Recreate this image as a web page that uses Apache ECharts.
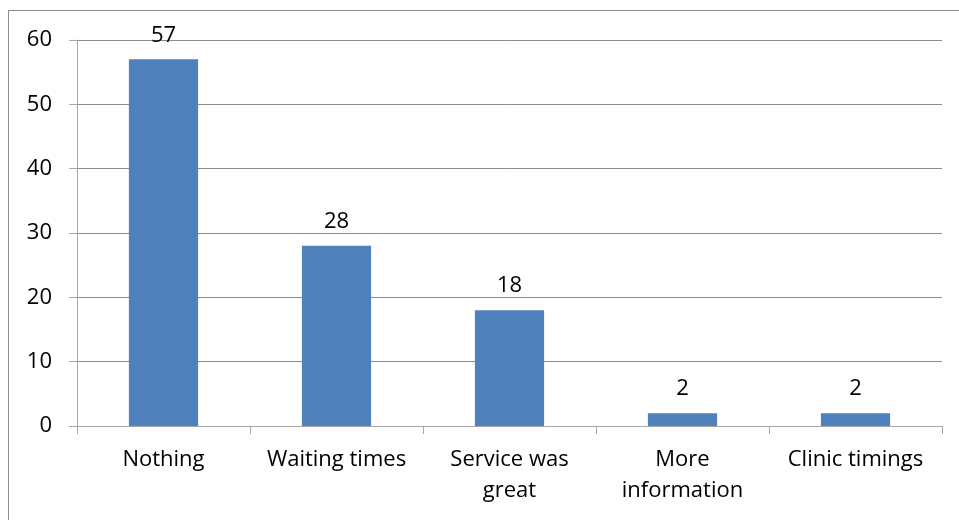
<!DOCTYPE html>
<html>
<head>
<meta charset="utf-8">
<script src="https://cdn.jsdelivr.net/npm/echarts@6/dist/echarts.min.js"></script>
<style>
  html, body { margin: 0; padding: 0; overflow: hidden; background: #fff; }
  #frame { position: absolute; left: 8px; top: 10px; width: 1000px; height: 600px; border: 1px solid #8c8c8c; }
  #chart { position: absolute; left: 0; top: 0; width: 959px; height: 520px; }
</style>
</head>
<body>
<div id="frame"></div>
<div id="chart"></div>
<script>
// answers and counts
const categories = ['Nothing', 'Waiting times', 'Service was\ngreat', 'More\ninformation', 'Clinic timings'];
const counts = [57, 28, 18, 2, 2];

const fontFamily = 'Open Sans';
var myChart = echarts.init(document.getElementById('chart'));
var option = {
  animation: false,
  grid: { left: 77, right: 17, top: 40, bottom: 94 },
  xAxis: {
    type: 'category',
    data: categories,
    axisLine: { lineStyle: { color: '#a6a6a6' } },
    axisTick: { show: true, length: 8, lineStyle: { color: '#a6a6a6' } },
    axisLabel: {
      color: '#000', fontSize: 22, fontFamily, lineHeight: 31, margin: 18, interval: 0
    }
  },
  yAxis: {
    type: 'value',
    min: 0, max: 60, interval: 10,
    axisLine: { show: true, lineStyle: { color: '#a6a6a6' } },
    axisTick: { show: true, length: 8, lineStyle: { color: '#a6a6a6' } },
    axisLabel: { color: '#000', fontSize: 22, fontFamily, margin: 25 },
    splitLine: { lineStyle: { color: '#8c8c8c' } }
  },
  series: [{
    type: 'bar',
    data: counts,
    barWidth: '40%',
    itemStyle: { color: '#4f81bd' },
    label: { show: true, position: 'top', distance: 13, color: '#000', fontSize: 22, fontFamily }
  }]
};
myChart.setOption(option);
</script>
</body>
</html>
